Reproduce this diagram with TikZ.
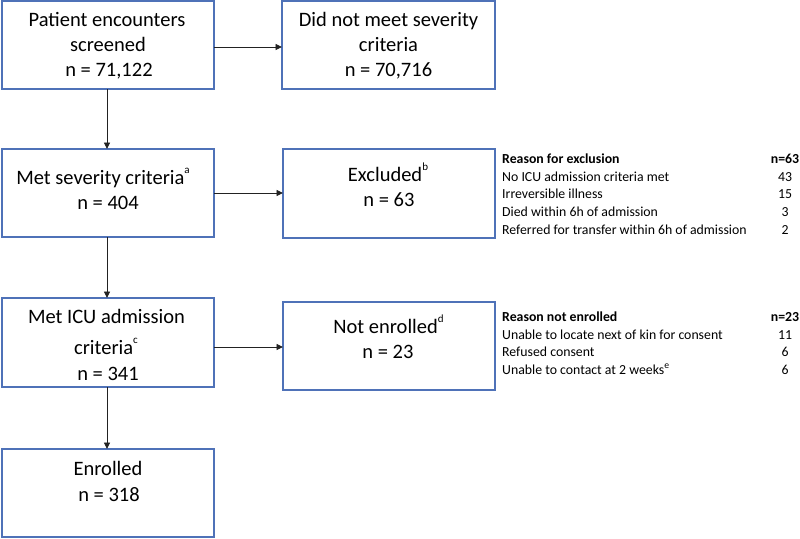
\documentclass[tikz,border=0pt]{standalone}
\usepackage{fontspec}
\setmainfont{Carlito}
\usetikzlibrary{arrows.meta}
\definecolor{boxblue}{HTML}{4F72B8}
\definecolor{arrgray}{HTML}{222222}
\begin{document}
\begin{tikzpicture}[x=1pt,y=-1pt,
  box/.style={draw=boxblue,line width=1.2pt,inner sep=0pt,outer sep=0pt,minimum width=212pt,minimum height=88pt},
  ln/.style={inner sep=0pt,anchor=base,font=\fontsize{20.5}{26}\selectfont},
  tl/.style={inner sep=0pt,anchor=base west,font=\fontsize{13.8}{17}\selectfont},
  tn/.style={inner sep=0pt,anchor=base,font=\fontsize{13.8}{17}\selectfont},
  arr/.style={draw=arrgray,line width=0.9pt,-{Triangle[length=6.5pt,width=6pt]}}]
\useasboundingbox (0,0) rectangle (800,538);
\newcommand{\supr}[1]{\raisebox{11pt}{\fontsize{11}{12}\selectfont #1}}
% boxes
\node[box] (b1) at (108,45) {};
\node[box,minimum width=213pt] (b2) at (388.5,45) {};
\node[box] (b3) at (108,193) {};
\node[box,minimum height=89pt] (b4) at (389,193.5) {};
\node[box,minimum height=89pt] (b5) at (108,342.5) {};
\node[box] (b6) at (389,346) {};
\node[box] (b7) at (108,493) {};
% box texts
\node[ln] (t1a) at (107,26) {Patient encounters};
\node[ln] (t1b) at (108,51) {screened};
\node[ln] (t1c) at (109,76.5) {n = 71,122};
\node[ln] (t2a) at (388.5,26) {Did not meet severity};
\node[ln] (t2b) at (388.5,51) {criteria};
\node[ln] (t2c) at (388.5,76.5) {n = 70,716};
\node[ln] (t3a) at (103,184.5) {Met severity criteria\supr{a}};
\node[ln] (t3b) at (108,209.5) {n = 404};
\node[ln] (t4a) at (388,181) {Excluded\supr{b}};
\node[ln] (t4b) at (389,206) {n = 63};
\node[ln] (t5a) at (106.5,323.5) {Met ICU admission};
\node[ln] (t5b) at (106,354) {criteria\supr{c}};
\node[ln] (t5c) at (108,380) {n = 341};
\node[ln] (t6a) at (388.5,333) {Not enrolled\supr{d}};
\node[ln] (t6b) at (388,358.5) {n = 23};
\node[ln] (t7a) at (108,475) {Enrolled};
\node[ln] (t7b) at (109,501) {n = 318};
% table 1
\node[tl] (r1h) at (502,163.5) {\textbf{Reason for exclusion}};
\node[tn] (n1h) at (785,163.5) {\textbf{n=63}};
\node[tl] (r1a) at (502,181) {No ICU admission criteria met};
\node[tn] (n1a) at (785,181) {43};
\node[tl] (r1b) at (502,198.5) {Irreversible illness};
\node[tn] (n1b) at (785,198.5) {15};
\node[tl] (r1c) at (502,216.5) {Died within 6h of admission};
\node[tn] (n1c) at (785,216.5) {3};
\node[tl] (r1d) at (502,234) {Referred for transfer within 6h of admission};
\node[tn] (n1d) at (785,234) {2};
% table 2
\node[tl] (r2h) at (502,321.5) {\textbf{Reason not enrolled}};
\node[tn] (n2h) at (785,321.5) {\textbf{n=23}};
\node[tl] (r2a) at (502,339) {Unable to locate next of kin for consent};
\node[tn] (n2a) at (785,339) {11};
\node[tl] (r2b) at (502,356.5) {Refused consent};
\node[tn] (n2b) at (785,356.5) {6};
\node[tl] (r2c) at (502,374) {Unable to contact at 2 weeks\textsuperscript{e}};
\node[tn] (n2c) at (785,374) {6};
% arrows
\draw[arr] ([yshift=-2pt]b1.east) -- ([yshift=-2pt]b1.east -| b2.west);
\draw[arr] (b3.east) -- (b3.east -| b4.west);
\draw[arr] ([yshift=-4.5pt]b5.east) -- ([yshift=-4.5pt]b5.east -| b6.west);
\draw[arr] ([xshift=-1pt]b1.south) -- ([xshift=-1pt]b3.north);
\draw[arr] ([xshift=-1pt]b3.south) -- ([xshift=-1pt]b5.north);
\draw[arr] ([xshift=-1pt]b5.south) -- ([xshift=-1pt]b7.north);
\end{tikzpicture}
\end{document}
